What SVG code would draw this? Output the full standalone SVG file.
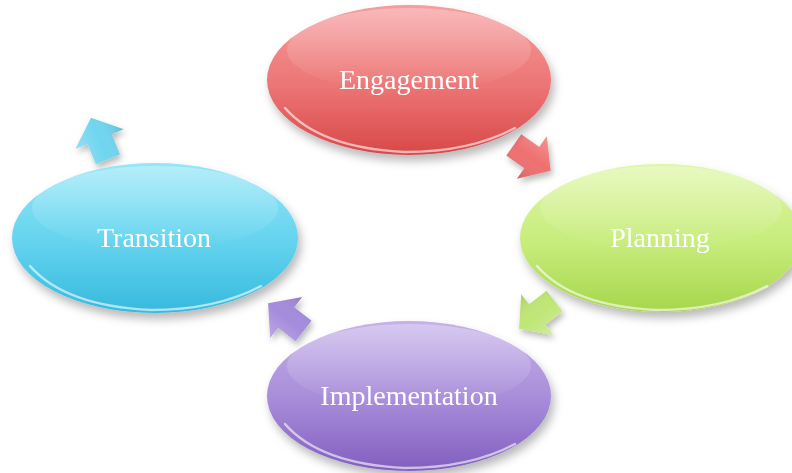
<svg xmlns="http://www.w3.org/2000/svg" width="792" height="473" viewBox="0 0 792 473">
<style>
.lbl{font-family:"Liberation Serif","Times New Roman",serif;font-size:28px;fill:#ffffff;text-anchor:middle}
.gloss{fill:url(#gloss)}
.rim{fill:none;stroke:#ffffff;stroke-opacity:0.6;stroke-width:2.5;stroke-linecap:round}
.node{filter:url(#shadow)}
.arr{filter:url(#ashadow)}
</style>
<defs>
<filter id="shadow" x="-20%" y="-20%" width="140%" height="150%">
<feDropShadow dx="3" dy="6" stdDeviation="5" flood-color="#000" flood-opacity="0.28"/>
</filter>
<filter id="ashadow" x="-50%" y="-50%" width="200%" height="200%">
<feDropShadow dx="2" dy="4" stdDeviation="3" flood-color="#000" flood-opacity="0.28"/>
</filter>
<linearGradient id="gRed" x1="0" y1="0" x2="0" y2="1">
<stop offset="0" stop-color="#f79c9c"/><stop offset="0.55" stop-color="#ec7474"/><stop offset="1" stop-color="#d84848"/>
</linearGradient>
<linearGradient id="gGreen" x1="0" y1="0" x2="0" y2="1">
<stop offset="0" stop-color="#dff6a6"/><stop offset="0.55" stop-color="#c6ec7a"/><stop offset="1" stop-color="#a6d64c"/>
</linearGradient>
<linearGradient id="gPurple" x1="0" y1="0" x2="0" y2="1">
<stop offset="0" stop-color="#c6b1ea"/><stop offset="0.55" stop-color="#a68ad8"/><stop offset="1" stop-color="#815ebe"/>
</linearGradient>
<linearGradient id="gBlue" x1="0" y1="0" x2="0" y2="1">
<stop offset="0" stop-color="#95e7f8"/><stop offset="0.55" stop-color="#62d2ee"/><stop offset="1" stop-color="#36b9dd"/>
</linearGradient>
<linearGradient id="gloss" x1="0" y1="0" x2="0" y2="1">
<stop offset="0" stop-color="#ffffff" stop-opacity="0.3"/><stop offset="1" stop-color="#ffffff" stop-opacity="0"/>
</linearGradient>
<linearGradient id="abevel" x1="0" y1="0" x2="0" y2="1">
<stop offset="0" stop-color="#ffffff" stop-opacity="0.25"/><stop offset="0.5" stop-color="#ffffff" stop-opacity="0"/><stop offset="1" stop-color="#000000" stop-opacity="0.12"/>
</linearGradient>
<polygon id="arrow" points="-21,-13 1,-13 1,-26 24,0 1,26 1,13 -21,13"/>
</defs>

<g id="connectors">
<g class="arr" fill="#ee6f6f"><use href="#arrow" transform="translate(531,157) rotate(35)"/></g>
<g class="arr" fill="#bfe676"><use href="#arrow" transform="translate(538,314) rotate(142)"/></g>
<g class="arr" fill="#a58bdc"><use href="#arrow" transform="translate(287,318) rotate(218)"/></g>
<g class="arr" fill="#6fd5ef"><use href="#arrow" transform="translate(100,140) rotate(-112)"/></g>
<g fill="url(#abevel)">
<use href="#arrow" transform="translate(531,157) rotate(35)"/>
<use href="#arrow" transform="translate(538,314) rotate(142)"/>
<use href="#arrow" transform="translate(287,318) rotate(218)"/>
<use href="#arrow" transform="translate(100,140) rotate(-112)"/>
</g>
</g>

<g id="engagement" class="node">
<ellipse cx="409" cy="80" rx="142" ry="75" fill="url(#gRed)"/>
<ellipse cx="409" cy="50" rx="122" ry="42" class="gloss"/>
<path class="rim" d="M285,108 Q320,148 405,152 Q470,152 515,128"/>
<text class="lbl" x="409" y="89">Engagement</text>
</g>

<g id="planning" class="node">
<ellipse cx="661" cy="238" rx="141" ry="74" fill="url(#gGreen)"/>
<ellipse cx="661" cy="208" rx="121" ry="42" class="gloss"/>
<path class="rim" d="M537,266 Q572,306 657,310 Q722,310 767,286"/>
<text class="lbl" x="660" y="247">Planning</text>
</g>

<g id="implementation" class="node">
<ellipse cx="409" cy="396" rx="142" ry="75" fill="url(#gPurple)"/>
<ellipse cx="409" cy="366" rx="122" ry="42" class="gloss"/>
<path class="rim" d="M285,424 Q320,464 405,468 Q470,468 515,444"/>
<text class="lbl" x="409" y="405">Implementation</text>
</g>

<g id="transition" class="node">
<ellipse cx="155" cy="238" rx="143" ry="75" fill="url(#gBlue)"/>
<ellipse cx="155" cy="208" rx="123" ry="42" class="gloss"/>
<path class="rim" d="M30,266 Q65,306 151,310 Q216,310 261,286"/>
<text class="lbl" x="154" y="247">Transition</text>
</g>
</svg>
